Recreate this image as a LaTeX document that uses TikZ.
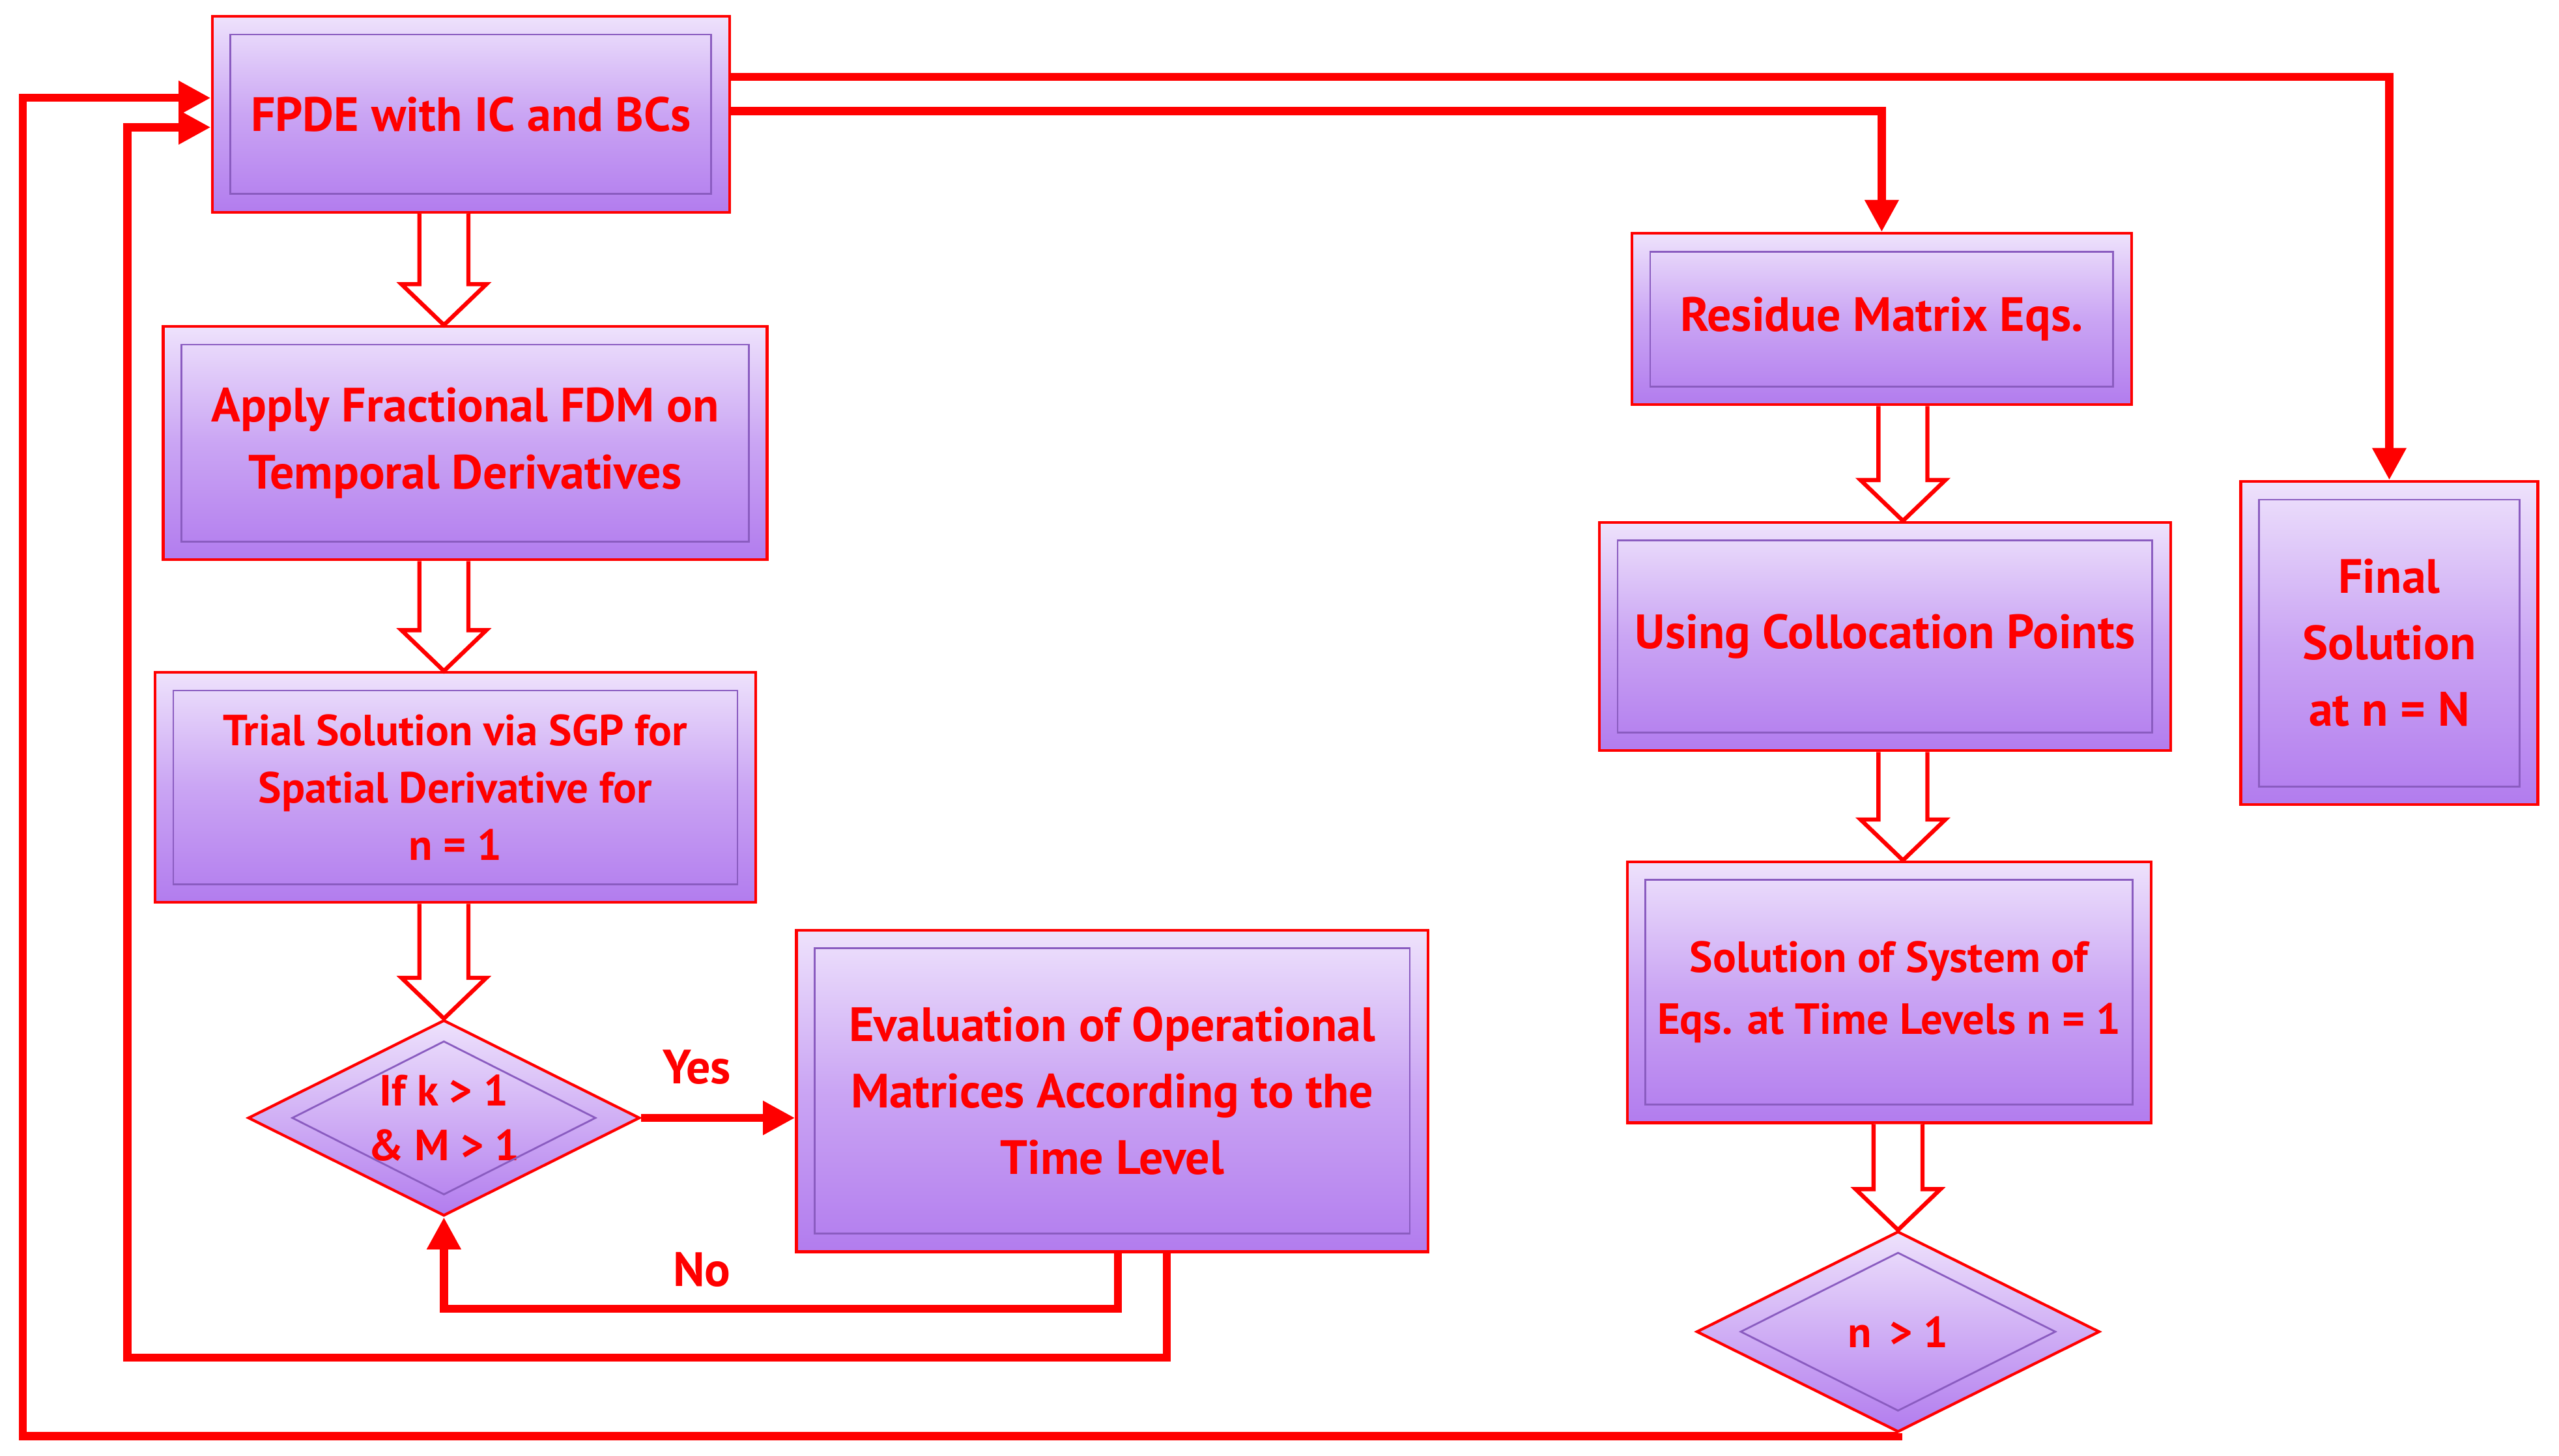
\documentclass[tikz,border=0pt]{standalone}
\usepackage{fontspec}
\setmainfont{PT Sans}
\usetikzlibrary{shapes.geometric,calc,arrows.meta}
\definecolor{pl}{HTML}{EEE2FC}
\definecolor{pd}{HTML}{B27CEE}
\definecolor{pe}{HTML}{8A5CC0}
\definecolor{rr}{HTML}{FF0000}
\tikzset{
 box/.style={rectangle,draw=rr,line width=1.2pt,top color=pl,bottom color=pd,middle color=pd!60!pl,
   text=rr,align=center,font=\bfseries\fontsize{21}{29}\selectfont,inner sep=2pt},
 dia/.style={diamond,aspect=2,draw=rr,line width=1.2pt,top color=pl,bottom color=pd,
   text=rr,align=center,font=\bfseries\fontsize{19}{24}\selectfont,inner sep=0pt},
 inb/.style={draw=pe,line width=0.8pt},
 harr/.style={draw=rr,line width=1.8pt,fill=white,line join=miter},
 rl/.style={draw=rr,line width=3.5pt,-{Triangle[length=14pt,width=14pt]}},
 lab/.style={text=rr,font=\bfseries\fontsize{21}{24}\selectfont}
}
\newcommand\ibox[1]{\draw[inb] ($(#1.north west)+(0.3,-0.3)$) rectangle ($(#1.south east)+(-0.3,0.3)$);}
\newcommand\harrow[3]{\coordinate (hs) at (#2.south -| #1,0); \coordinate (he) at (#3.north -| #1,0);
 \draw[harr] ($(hs)+(-0.375,0)$) -- ($(he)+(-0.375,0.625)$) -- ($(he)+(-0.65,0.625)$) -- (he) -- ($(he)+(0.65,0.625)$) -- ($(he)+(0.375,0.625)$) -- ($(hs)+(0.375,0)$);}
\begin{document}
\begin{tikzpicture}
\useasboundingbox (0,0) rectangle (39.2,-22.3);
\node[box,minimum width=7.925cm,minimum height=3cm] (fpde) at (7.2125,-1.75) {FPDE with IC and BCs};
\node[box,minimum width=9.25cm,minimum height=3.575cm] (apply) at (7.125,-6.7875) {Apply Fractional FDM on\\Temporal Derivatives};
\node[box,minimum width=9.2cm,minimum height=3.525cm,font=\bfseries\fontsize{19}{25}\selectfont] (trial) at (6.975,-12.0625) {Trial Solution via SGP for\\Spatial Derivative for\\n = 1};
\node[box,minimum width=9.675cm,minimum height=4.925cm] (eval) at (17.0375,-16.7125) {Evaluation of Operational\\Matrices According to the\\Time Level};
\node[box,minimum width=7.65cm,minimum height=2.625cm] (res) at (28.825,-4.8875) {Residue Matrix Eqs.};
\node[box,minimum width=8.75cm,minimum height=3.5cm] (using) at (28.875,-9.75) {Using Collocation Points};
\node[box,minimum width=8.025cm,minimum height=4cm,font=\bfseries\fontsize{19}{27}\selectfont] (sol) at (28.9375,-15.2) {Solution of System of\\Eqs. at Time Levels n = 1};
\node[box,minimum width=4.55cm,minimum height=4.95cm] (final) at (36.6,-9.85) {Final\\Solution\\at n = N};
\foreach \n in {fpde,apply,trial,eval,res,using,sol,final} {\ibox{\n}}
\node[dia,minimum width=6cm,minimum height=3cm] (dk) at (6.8,-17.125) {If k > 1\\\& M > 1};
\node[dia,minimum width=6.175cm,minimum height=3.075cm] (dn) at (29.075,-20.4) {n\, > 1};
\draw[inb] ($(dk.north)+(0,-0.35)$) -- ($(dk.east)+(-0.7,0)$) -- ($(dk.south)+(0,0.35)$) -- ($(dk.west)+(0.7,0)$) -- cycle;
\draw[inb] ($(dn.north)+(0,-0.35)$) -- ($(dn.east)+(-0.7,0)$) -- ($(dn.south)+(0,0.35)$) -- ($(dn.west)+(0.7,0)$) -- cycle;
\harrow{6.8}{fpde}{apply}
\harrow{6.8}{apply}{trial}
\harrow{6.8}{trial}{dk}
\harrow{29.15}{res}{using}
\harrow{29.15}{using}{sol}
\harrow{29.075}{sol}{dn}
\draw[rl] (fpde.east |- 0,-1.175) -| (final.north);
\draw[rl] (fpde.east |- 0,-1.7) -| (res.north);
\draw[rl] (dk.east) -- (eval.west |- dk.east);
\node[lab] (yes) at (10.675,-16.35) {Yes};
\draw[rl] (eval.south -| 17.125,0) -- (17.125,-20.05) -| (dk.south);
\node[lab] (no) at (10.75,-19.45) {No};
\draw[rl] (eval.south -| 17.875,0) |- (1.95,-20.8) |- (fpde.west |- 0,-1.95);
\draw[rl] (dn.south) |- (0.35,-22.0) |- (fpde.west |- 0,-1.5);
\end{tikzpicture}
\end{document}
